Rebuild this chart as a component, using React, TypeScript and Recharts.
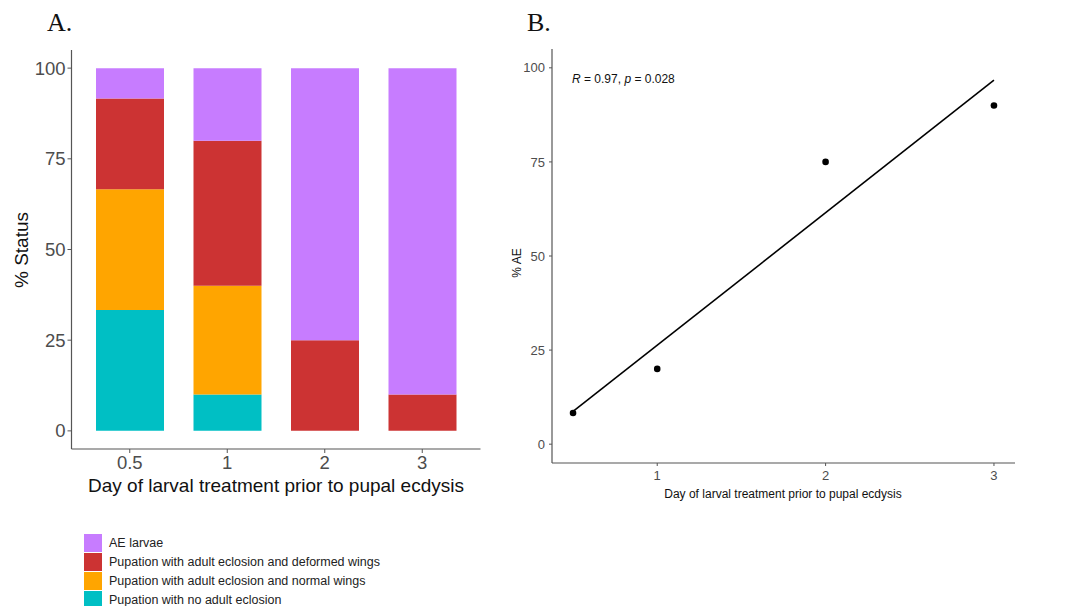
import React from 'react';
import {
  BarChart, Bar, XAxis, YAxis, ScatterChart, Scatter,
} from 'recharts';

// panel A: stacked % status by day of larval treatment
const days = ['0.5', '1', '2', '3'];
const noEclosion = [33.3, 10, 0, 0];
const normalWings = [33.3, 30, 0, 0];
const deformedWings = [25, 40, 25, 10];
const aeLarvae = [8.4, 20, 75, 90];
const statusTicks = [0, 25, 50, 75, 100];

// panel B: % AE vs day, with fitted line
const aeDays = [0.5, 1, 2, 3];
const aePercent = [8.3, 20, 75, 90];
const fitDays = [0.5, 3];
const fitPercent = [8.7, 96.7];
const dayTicks = [1, 2, 3];

const series = [
  { key: 'ae', name: 'AE larvae', color: '#C77CFF', values: aeLarvae },
  { key: 'deformed', name: 'Pupation with adult eclosion and deformed wings', color: '#CC3333', values: deformedWings },
  { key: 'normal', name: 'Pupation with adult eclosion and normal wings', color: '#FFA500', values: normalWings },
  { key: 'none', name: 'Pupation with no adult eclosion', color: '#00BFC4', values: noEclosion },
];

const barData = days.map((d, i) => {
  const row: Record<string, string | number> = { day: d };
  series.forEach((s) => { row[s.key] = s.values[i]; });
  return row;
});

const points = aeDays.map((x, i) => ({ x, y: aePercent[i] }));
const fit = fitDays.map((x, i) => ({ x, y: fitPercent[i] }));

const sans = '"Liberation Sans", Arial, sans-serif';
const serif = '"Liberation Serif", "Times New Roman", serif';
const axisColor = '#555';
const tickColor = '#4D4D4D';

export default function App() {
  // stack bottom-up: teal, orange, red, purple
  const stackOrder = [...series].reverse();

  return (
    <div style={{ position: 'absolute', left: 0, top: 0, width: 1075, height: 606, background: '#fff', fontFamily: sans }}>
      <div style={{ position: 'absolute', left: 47, top: 8, fontFamily: serif, fontSize: 26, color: '#111' }}>A.</div>
      <div style={{ position: 'absolute', left: 527, top: 8, fontFamily: serif, fontSize: 26, color: '#111' }}>B.</div>

      {/* Panel A */}
      <div style={{ position: 'absolute', left: 0, top: 0 }}>
        <BarChart width={500} height={520} data={barData} margin={{ top: 50, right: 19.5, left: 0, bottom: 31 }}>
          <XAxis
            dataKey="day"
            padding={{ left: 9.5, right: 9.5 }}
            height={40}
            tick={{ fontSize: 18.5, fill: tickColor, fontFamily: sans }}
            tickSize={4}
            tickMargin={3}
            tickLine={{ stroke: axisColor }}
            axisLine={{ stroke: axisColor, strokeWidth: 1.2 }}
          />
          <YAxis
            width={71.5}
            domain={[-5, 105]}
            ticks={statusTicks}
            allowDataOverflow
            tick={{ fontSize: 18.5, fill: tickColor, fontFamily: sans }}
            tickSize={4}
            tickMargin={2}
            tickLine={{ stroke: axisColor }}
            axisLine={{ stroke: axisColor, strokeWidth: 1.2 }}
          />
          {stackOrder.map((s) => (
            <Bar key={s.key} dataKey={s.key} stackId="a" fill={s.color} barSize={68} isAnimationActive={false} />
          ))}
        </BarChart>
      </div>
      <div style={{ position: 'absolute', left: 22, top: 250, transform: 'translate(-50%, -50%) rotate(-90deg)', fontSize: 19, color: '#111', whiteSpace: 'nowrap' }}>
        % Status
      </div>
      <div style={{ position: 'absolute', left: 276, top: 486, transform: 'translate(-50%, -50%)', fontSize: 19, color: '#111', whiteSpace: 'nowrap' }}>
        Day of larval treatment prior to pupal ecdysis
      </div>

      {/* legend */}
      <div style={{ position: 'absolute', left: 84, top: 533 }}>
        {series.map((s) => (
          <div key={s.key} style={{ display: 'flex', alignItems: 'center', height: 19 }}>
            <div style={{ width: 18, height: 18, background: s.color, marginRight: 7 }} />
            <span style={{ fontSize: 12.5, color: '#222' }}>{s.name}</span>
          </div>
        ))}
      </div>

      {/* Panel B */}
      <div style={{ position: 'absolute', left: 500, top: 0 }}>
        <ScatterChart width={575} height={520} margin={{ top: 49, right: 60, left: 0, bottom: 27 }}>
          <XAxis
            type="number"
            dataKey="x"
            domain={[0.375, 3.125]}
            ticks={dayTicks}
            allowDataOverflow
            height={30}
            tick={{ fontSize: 13, fill: tickColor, fontFamily: sans }}
            tickSize={3}
            tickMargin={5}
            tickLine={{ stroke: axisColor }}
            axisLine={{ stroke: axisColor, strokeWidth: 1.2 }}
          />
          <YAxis
            type="number"
            dataKey="y"
            width={52}
            domain={[-5, 105]}
            ticks={statusTicks}
            allowDataOverflow
            tick={{ fontSize: 13, fill: tickColor, fontFamily: sans }}
            tickSize={3}
            tickMargin={4}
            tickLine={{ stroke: axisColor }}
            axisLine={{ stroke: axisColor, strokeWidth: 1.2 }}
          />
          <Scatter
            data={fit}
            line={{ stroke: '#000', strokeWidth: 1.6 }}
            shape={() => <g />}
            isAnimationActive={false}
          />
          <Scatter
            data={points}
            shape={(p: any) => <circle cx={p.cx} cy={p.cy} r={3.3} fill="#000" />}
            isAnimationActive={false}
          />
        </ScatterChart>
      </div>
      <div style={{ position: 'absolute', left: 572, top: 72, fontSize: 12, color: '#111', whiteSpace: 'nowrap' }}>
        <i>R</i> = 0.97, <i>p</i> = 0.028
      </div>
      <div style={{ position: 'absolute', left: 517, top: 263, transform: 'translate(-50%, -50%) rotate(-90deg)', fontSize: 12, color: '#111', whiteSpace: 'nowrap' }}>
        % AE
      </div>
      <div style={{ position: 'absolute', left: 783, top: 494, transform: 'translate(-50%, -50%)', fontSize: 12, color: '#111', whiteSpace: 'nowrap' }}>
        Day of larval treatment prior to pupal ecdysis
      </div>
    </div>
  );
}
